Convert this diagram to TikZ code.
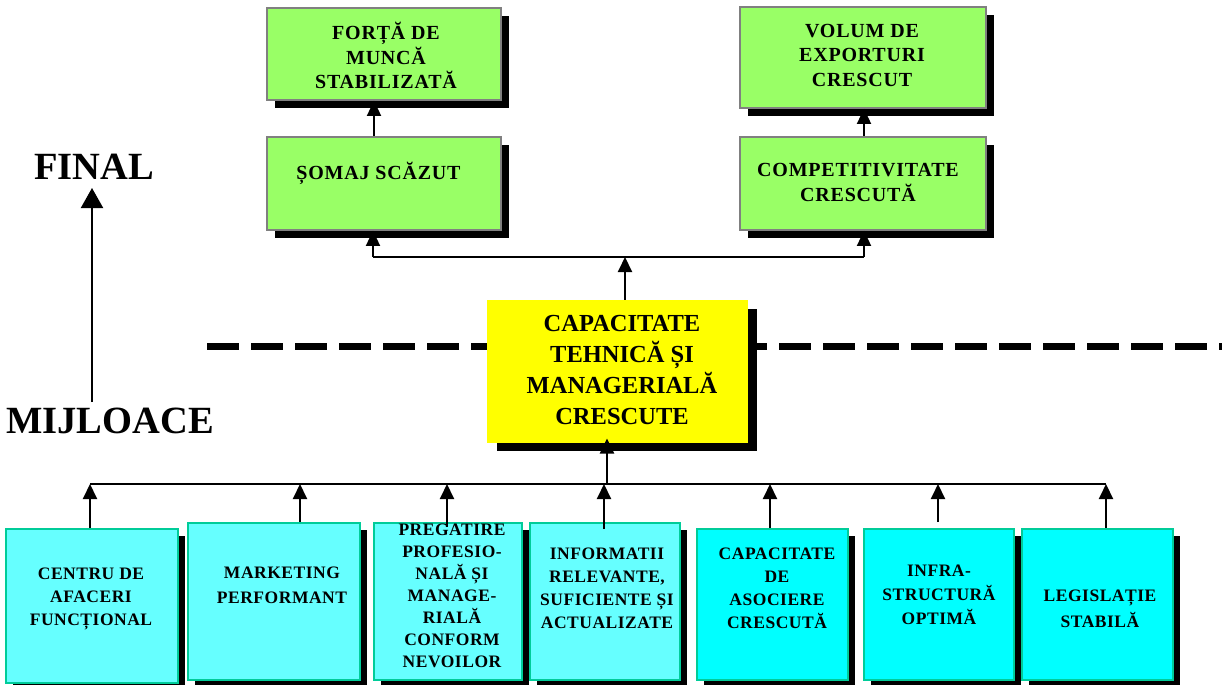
\documentclass[tikz,border=0pt]{standalone}
\usepackage{fontspec}
\setmainfont{Liberation Serif}[BoldFont={Liberation Serif Bold}]
\newfontfamily\heavyserif{Liberation Serif Bold}
\newfontfamily\heavyspaced{Liberation Serif Bold}[LetterSpace=4]
\newfontfamily\heavysmall{Liberation Serif Bold}[LetterSpace=3]
\usetikzlibrary{arrows.meta,shadows}
\definecolor{gfill}{HTML}{99FF66}
\definecolor{gline}{HTML}{808080}
\definecolor{yfill}{HTML}{FFFF00}
\definecolor{cfillA}{HTML}{66FFFF}
\definecolor{cfillB}{HTML}{00FFFF}
\definecolor{cline}{HTML}{00CC99}
\begin{document}
\begin{tikzpicture}[x=1pt,y=-1pt,
  gbox/.style={draw=gline,line width=1.8pt,fill=gfill,inner sep=0pt,
    drop shadow={shadow xshift=8pt,shadow yshift=-8pt,opacity=1,fill=black}},
  ybox/.style={draw=yfill,line width=1pt,fill=yfill,inner sep=0pt,
    drop shadow={shadow xshift=10pt,shadow yshift=-9pt,opacity=1,fill=black}},
  cbox/.style={draw=cline,line width=1.8pt,inner sep=0pt,
    drop shadow={shadow xshift=7pt,shadow yshift=-7pt,opacity=1,fill=black}},
  gtext/.style={align=center,inner sep=0pt,font=\heavyspaced\fontsize{20}{24.5}\selectfont},
  ytext/.style={align=center,inner sep=0pt,font=\heavyserif\fontsize{24.5}{31}\selectfont},
  ctext/.style={align=center,inner sep=0pt,font=\heavysmall\fontsize{17.5}{23}\selectfont},
  bigtext/.style={inner sep=0pt,font=\heavyserif\fontsize{38.5}{40}\selectfont},
  wire/.style={line width=2pt,draw=black},
  arr/.style={line width=2pt,draw=black,-{Triangle[length=15pt,width=14pt]}},
  bigarr/.style={line width=2pt,draw=black,-{Triangle[length=20pt,width=22pt]}}
]
\useasboundingbox (0,0) rectangle (1226,685);

% dashed separator
\coordinate (dl) at (207,346.5);
\coordinate (dr) at (1222,346.5);
\draw[line width=7pt,dash pattern=on 32pt off 12pt] (dl) -- (dr);

% green boxes
\node[gbox,minimum width=234pt,minimum height=92pt] (g1) at (384,54) {};
\node[gbox,minimum width=234pt,minimum height=93pt] (g2) at (384,183.5) {};
\node[gbox,minimum width=246pt,minimum height=101pt] (g3) at (863,57.5) {};
\node[gbox,minimum width=246pt,minimum height=93pt] (g4) at (863,183.5) {};

% yellow box
\node[ybox,minimum width=260pt,minimum height=142pt] (yl) at (617,371) {};

% bottom boxes
\node[cbox,fill=cfillA,minimum width=172pt,minimum height=154pt] (b1) at (92,606) {};
\node[cbox,fill=cfillA,minimum width=172pt,minimum height=157pt] (b2) at (274,601.5) {};
\node[cbox,fill=cfillA,minimum width=148pt,minimum height=157pt] (b3) at (448,601.5) {};
\node[cbox,fill=cfillA,minimum width=150pt,minimum height=157pt] (b4) at (605,601.5) {};
\node[cbox,fill=cfillB,minimum width=151pt,minimum height=151pt] (b5) at (772.5,604.5) {};
\node[cbox,fill=cfillB,minimum width=150pt,minimum height=151pt] (b6) at (939,604.5) {};
\node[cbox,fill=cfillB,minimum width=151pt,minimum height=151pt] (b7) at (1097.5,604.5) {};

% texts
\node[gtext] (t1) at (386,55.5) {FORȚĂ DE\\MUNCĂ\\STABILIZATĂ};
\node[gtext] (t2) at (378.5,173) {ȘOMAJ SCĂZUT};
\node[gtext] (t3) at (862,55) {VOLUM DE\\EXPORTURI\\CRESCUT};
\node[gtext] (t4) at (858,182.5) {COMPETITIVITATE\\CRESCUTĂ};
\node[ytext] (ty) at (622,370) {CAPACITATE\\TEHNICĂ ȘI\\MANAGERIALĂ\\CRESCUTE};

\node[ctext] (s1) at (91,599) {CENTRU DE\\AFACERI\\FUNCȚIONAL};
\node[ctext,font=\heavysmall\fontsize{17.5}{25}\selectfont] (s2) at (282,585) {MARKETING\\PERFORMANT};
\node[ctext,font=\heavysmall\fontsize{17.5}{22}\selectfont] (s3) at (452,596) {PREGATIRE\\PROFESIO-\\NALĂ ȘI\\MANAGE-\\RIALĂ\\CONFORM\\NEVOILOR};
\node[ctext] (s4) at (607,588) {INFORMATII\\RELEVANTE,\\SUFICIENTE ȘI\\ACTUALIZATE};
\node[ctext] (s5) at (777,588) {CAPACITATE\\DE\\ASOCIERE\\CRESCUTĂ};
\node[ctext,font=\heavysmall\fontsize{17.5}{24}\selectfont] (s6) at (939,595) {INFRA-\\STRUCTURĂ\\OPTIMĂ};
\node[ctext,font=\heavysmall\fontsize{17.5}{26}\selectfont] (s7) at (1100,609) {LEGISLAȚIE\\STABILĂ};

\node[bigtext] (fin) at (94,167) {FINAL};
\node[bigtext] (mij) at (110,421) {MIJLOACE};

% left arrow
\coordinate (fa) at (92,402);
\coordinate (fb) at (92,188);
\draw[bigarr] (fa) -- (fb);

% top connectors
\coordinate (tl) at (373,257);
\coordinate (tj) at (625,257);
\coordinate (tr) at (864,257);
\draw[arr] (tj |- yl.north) -- (tj);
\draw[wire] (tl) -- (tr);
\draw[arr] (tl) -- (tl |- g2.south);
\draw[arr] (tr) -- (tr |- g4.south);
\draw[arr] ([xshift=-10pt]g2.north) -- ([xshift=-10pt]g1.south);
\draw[arr] (tr |- g4.north) -- (tr |- g3.south);

% bottom connectors
\coordinate (bl) at (90,484);
\coordinate (br) at (1106,484);
\coordinate (bj) at (607,484);
\coordinate (c2) at (300,484);
\coordinate (c3) at (447,484);
\coordinate (c4) at (604,484);
\coordinate (c5) at (770,484);
\coordinate (c6) at (938,484);
\draw[wire] (bl) -- (br);
\draw[arr,shorten >=-4pt] (bj) -- (bj |- yl.south);
\draw[arr] (bl |- b1.north) -- (bl);
\draw[arr] (c2 |- b2.north) -- (c2);
\draw[arr,shorten <=-5pt] (c3 |- b3.north) -- (c3);
\draw[arr,shorten <=-7pt] (c4 |- b4.north) -- (c4);
\draw[arr] (c5 |- b5.north) -- (c5);
\draw[arr,shorten <=6pt] (c6 |- b6.north) -- (c6);
\draw[arr] (br |- b7.north) -- (br);
\end{tikzpicture}
\end{document}
